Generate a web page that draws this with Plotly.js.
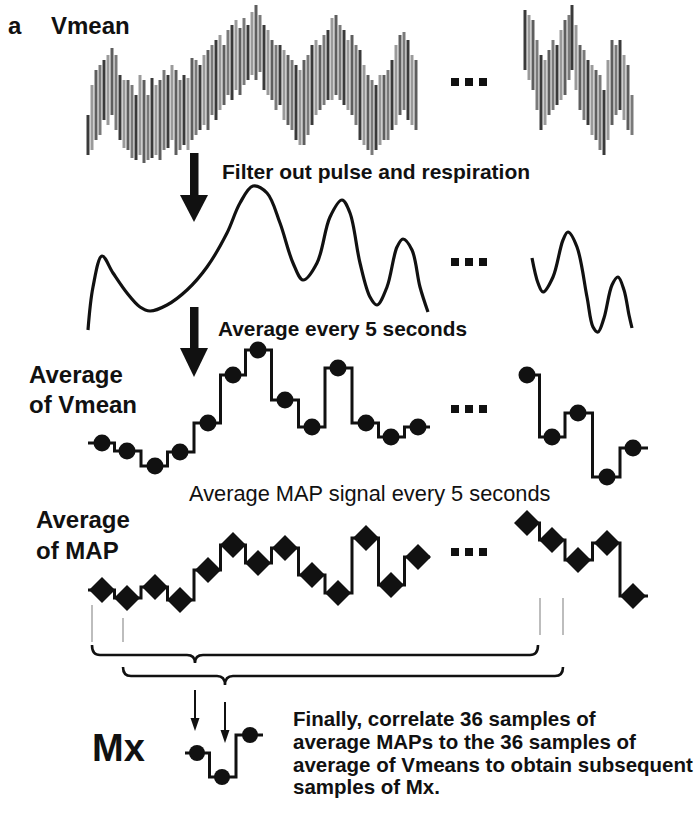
<!DOCTYPE html>
<html><head><meta charset="utf-8">
<script src="https://cdn.plot.ly/plotly-3.0.1.min.js"></script>
<style>html,body{margin:0;padding:0;background:#fff}#chart{width:694px;height:813px}</style>
</head><body><div id="chart"></div>
<script>
// ---- Raw Vmean signal (beat strokes: top / bottom of each pulse) ----
const rawLeftX = [88,92,96,100,104,108,112,116,120,124,128,132,136,140,144,148,152,156,160,164,168,172,176,180,184,188,192,196,200,204,208,212,216,220,224,228,232,236,240,244,248,252,256,260,264,268,272,276,280,284,288,292,296,300,304,308,312,316,320,324,328,332,336,340,344,348,352,356,360,364,368,372,376,380,384,388,392,396,400,404,408,412,416];
const rawLeftTop = [115,85,70,65,60,55,48,55,75,80,80,85,95,75,80,95,78,85,80,70,75,65,70,80,75,78,58,60,65,55,50,45,40,35,45,30,25,20,28,18,25,12,5,15,25,30,40,45,45,50,55,60,65,70,60,55,45,40,45,35,30,18,15,25,30,40,35,45,50,65,75,80,85,75,75,70,60,45,35,32,40,55,60];
const rawLeftBot = [155,150,140,135,120,125,115,130,140,148,150,158,160,155,163,160,158,155,160,150,148,140,155,150,145,150,140,135,130,125,130,115,120,110,105,95,100,90,95,85,80,75,80,72,90,95,100,110,105,120,125,130,140,145,145,135,125,115,110,105,100,100,95,100,105,110,115,125,140,145,150,155,150,145,140,140,130,125,115,110,120,125,130];
const rawRightX = [525,529,533,537,541,545,549,553,557,561,565,569,572,576,580,584,588,592,596,600,604,608,612,616,620,624,628,632];
const rawRightTop = [10,15,20,40,55,60,50,40,45,30,20,15,5,25,45,50,60,65,70,75,90,60,40,45,40,55,65,95];
const rawRightBot = [70,80,90,110,130,125,115,110,105,100,95,80,70,90,110,120,125,135,140,150,155,140,125,115,110,120,130,135];

// ---- Filtered Vmean ----
const filtLeftX = [88,93,102,113,127,140,150,167,187,207,227,240,253,267,280,293,303,317,330,342,350,360,370,377,387,397,403,412,420,428];
const filtLeftY = [330,287,256,273,293,307,311,305,290,267,233,203,186,193,223,263,280,263,217,200,213,263,297,305,287,247,239,250,287,312];
const filtRightX = [532,538,543,553,563,568,577,587,593,598,604,612,618,624,629,632];
const filtRightY = [258,283,292,277,240,232,247,297,327,332,318,285,277,290,315,328];

// ---- 5-second averages ----
const sampleLeftX = [102,127,155,180,208,233,258,285,312,338,366,391,418];
const vmeanAvgLeft = [443,451,466,452,423,375,350,400,427,368,423,437,427];
const mapAvgLeft = [590,598,587,600,570,545,563,548,575,593,538,585,557];
const sampleRightX = [527,552,578,607,633];
const vmeanAvgRight = [375,437,413,477,448];
const mapAvgRight = [523,540,560,543,596];
const stepLeftStart = 88, stepLeftEnd = 430, stepRightEnd = 648;

// ---- Mx ----
const mxX = [197,222,250];
const mxY = [753,777,735];
const mxStart = 185, mxEnd = 263;

// ---- ellipsis rows ----
const ellX = [455,469,483];
const ellRows = [82,262,409,552];

const FONT = 'Liberation Sans, Arial, Helvetica, sans-serif';
const INK = '#111';

const traces = [];
function strokes(xs, tops, bots){
  const shades = ['#3a3a3a','#9a9a9a','#5e5e5e','#7a7a7a'];
  traces.push({type:'bar', x:xs, base:tops, y:bots.map((b,i)=>b-tops[i]),
    width:3, marker:{color:xs.map((_,i)=>shades[i%4]), line:{width:0}}, hoverinfo:'skip'});
}
strokes(rawLeftX, rawLeftTop, rawLeftBot);
strokes(rawRightX, rawRightTop, rawRightBot);

traces.push({type:'scatter', mode:'lines', x:filtLeftX, y:filtLeftY, line:{color:INK, width:3.2, shape:'spline', smoothing:1}});
traces.push({type:'scatter', mode:'lines', x:filtRightX, y:filtRightY, line:{color:INK, width:3.2, shape:'spline', smoothing:1}});

function stepSeries(xs, ys, start, end, symbol, size){
  const lx = (start!=null ? [start] : []).concat(xs, [end]);
  const ly = (start!=null ? [ys[0]] : []).concat(ys, [ys[ys.length-1]]);
  traces.push({type:'scatter', mode:'lines', x:lx, y:ly, line:{color:INK, width:3, shape:'hvh'}});
  traces.push({type:'scatter', mode:'markers', x:xs, y:ys, marker:{symbol:symbol, size:size, color:INK}});
}
stepSeries(sampleLeftX, vmeanAvgLeft, stepLeftStart, stepLeftEnd, 'circle', 17);
stepSeries(sampleRightX, vmeanAvgRight, null, stepRightEnd, 'circle', 17);
stepSeries(sampleLeftX, mapAvgLeft, stepLeftStart, stepLeftEnd, 'diamond', 20);
stepSeries(sampleRightX, mapAvgRight, null, stepRightEnd, 'diamond', 20);
stepSeries(mxX, mxY, mxStart, mxEnd, 'circle', 16);

// ellipsis markers
ellRows.forEach(r=>{
  traces.push({type:'scatter', mode:'markers', x:ellX, y:ellX.map(()=>r), marker:{symbol:'square', size:8, color:INK}});
});

// window tick marks
traces.push({type:'scatter', mode:'lines', x:[92,92,null,123,123,null,540,540,null,563,563],
  y:[605,642,null,618,642,null,598,635,null,598,635], line:{color:'#9a9a9a', width:1.3}});

const shapes = [
  // big arrows
  {type:'rect', x0:190, x1:198.5, y0:153, y1:197, fillcolor:INK, line:{width:0}},
  {type:'path', path:'M 180 195 L 208 195 L 194 222 Z', fillcolor:INK, line:{width:0}},
  {type:'rect', x0:190, x1:198.5, y0:307, y1:350, fillcolor:INK, line:{width:0}},
  {type:'path', path:'M 180 348 L 208 348 L 194 377 Z', fillcolor:INK, line:{width:0}},
  // braces
  {type:'path', path:'M 92 645 Q 92 655 100 655 L 187 655 Q 195 655 195 663 Q 195 655 203 655 L 530 655 Q 538 655 538 645', line:{color:INK, width:2.6}},
  {type:'path', path:'M 123 667 Q 123 676 131 676 L 217 676 Q 225 676 225 685 Q 225 676 233 676 L 555 676 Q 563 676 563 667', line:{color:INK, width:2.6}},
  // small arrows
  {type:'line', x0:195, x1:195, y0:690, y1:720, line:{color:INK, width:2}},
  {type:'path', path:'M 190.5 718 L 199.5 718 L 195 731 Z', fillcolor:INK, line:{width:0}},
  {type:'line', x0:225, x1:225, y0:702, y1:732, line:{color:INK, width:2}},
  {type:'path', path:'M 220.5 730 L 229.5 730 L 225 743 Z', fillcolor:INK, line:{width:0}},
];

function txt(x, y, s, size, bold){
  return {x:x, y:y, xref:'x', yref:'y', text: bold ? '<b>'+s+'</b>' : s, showarrow:false,
    xanchor:'left', yanchor:'middle', font:{family:FONT, size:size, color:INK}};
}
const annotations = [
  txt(6, 25, 'a', 24, true),
  txt(49, 25, 'Vmean', 24, true),
  txt(220, 171, 'Filter out pulse and respiration', 21, true),
  txt(216, 328, 'Average every 5 seconds', 20.8, true),
  txt(27, 374, 'Average', 24, true),
  txt(27, 404, 'of Vmean', 24, true),
  txt(187, 493, 'Average MAP signal every 5 seconds', 21.8, false),
  txt(34, 519, 'Average', 24, true),
  txt(34, 550, 'of MAP', 24, true),
  txt(90, 748, 'Mx', 38, true),
  txt(291, 718, 'Finally, correlate 36 samples of', 20.5, true),
  txt(291, 741, 'average MAPs to the 36 samples of', 20.5, true),
  txt(291, 764, 'average of Vmeans to obtain subsequent', 20.5, true),
  txt(291, 786, 'samples of Mx.', 20.5, true),
];

const layout = {
  width:694, height:813, margin:{l:0,r:0,t:0,b:0},
  paper_bgcolor:'#fff', plot_bgcolor:'#fff', showlegend:false, barmode:'overlay',
  xaxis:{range:[0,694], visible:false, fixedrange:true},
  yaxis:{range:[813,0], visible:false, fixedrange:true},
  shapes:shapes, annotations:annotations
};
Plotly.newPlot('chart', traces, layout, {staticPlot:true, displayModeBar:false});
</script>
</body></html>
